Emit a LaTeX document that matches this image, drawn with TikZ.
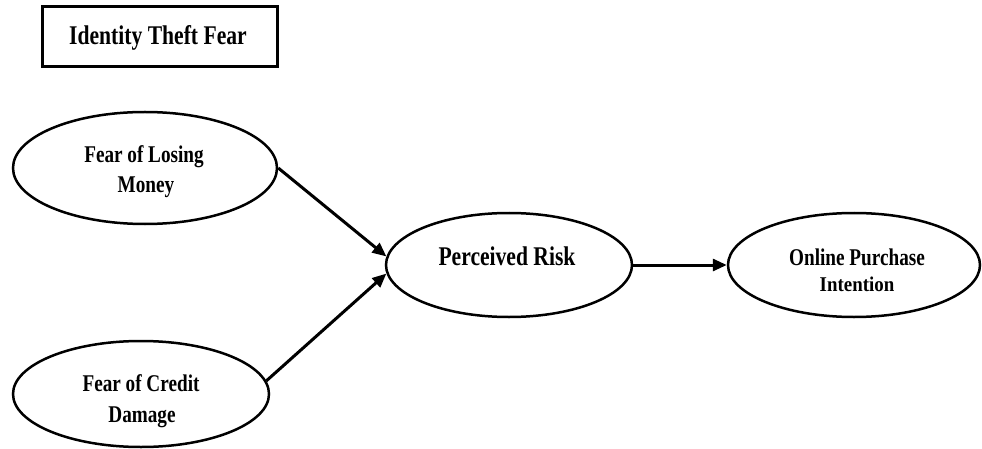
\documentclass[tikz,border=0pt]{standalone}
\usepackage{fontspec}
\setmainfont{Liberation Serif}[FakeStretch=0.8]
\newfontfamily\lessnarrow{Liberation Serif}[FakeStretch=0.9]
\usetikzlibrary{arrows.meta,shapes.geometric}
\begin{document}
\begin{tikzpicture}[x=1pt,y=-1pt,
  oval/.style={draw=black,line width=2.5pt,ellipse,inner sep=0pt},
  label24/.style={inner sep=0pt,anchor=base,font=\bfseries\fontsize{24}{28}\selectfont},
  label27/.style={inner sep=0pt,anchor=base,font=\bfseries\fontsize{27}{32}\selectfont},
  link/.style={line width=3pt,-{Triangle[length=14pt,width=12pt]}}]
\useasboundingbox (0,0) rectangle (982,449);
% title box
\node[draw=black,line width=3pt,minimum width=235pt,minimum height=60pt,inner sep=0pt] (title) at (159.5,37) {};
\node[label27] (titletxt) at (158,45) {Identity Theft Fear};
% ellipses
\node[oval,minimum width=264pt,minimum height=112pt] (flm) at (145,168) {};
\node[oval,minimum width=256pt,minimum height=106pt] (fcd) at (141,394) {};
\node[oval,minimum width=246pt,minimum height=104pt] (pr) at (509,265) {};
\node[oval,minimum width=252pt,minimum height=104pt] (opi) at (854,265) {};
% texts
\node[label24] (flma) at (144,163) {Fear of Losing};
\node[label24] (flmb) at (146,193) {Money};
\node[label24] (fcda) at (141,391) {Fear of Credit};
\node[label24] (fcdb) at (142,422) {Damage};
\node[label27] (prtxt) at (507,265) {Perceived Risk};
\node[label24] (opia) at (857,265) {Online Purchase};
\node[inner sep=0pt,anchor=base,font=\lessnarrow\bfseries\fontsize{21}{25}\selectfont] (opib) at (857,291) {Intention};
% connectors
\draw[link] (flm.east) -- (pr.176);
\draw[link] (fcd.6) -- (pr.184);
\draw[link] (pr.east) -- (opi.west);
\end{tikzpicture}
\end{document}
